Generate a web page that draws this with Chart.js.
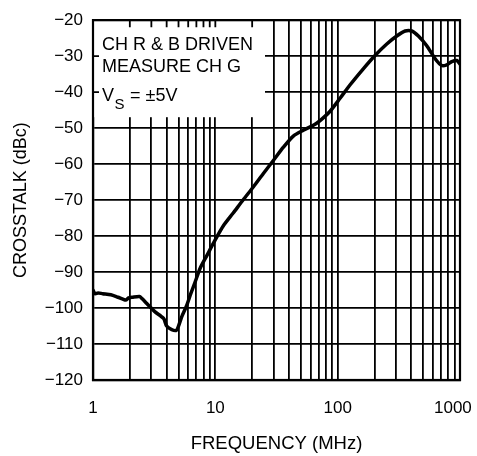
<!DOCTYPE html>
<html>
<head>
<meta charset="utf-8">
<script src="https://cdn.jsdelivr.net/npm/chart.js@4/dist/chart.umd.min.js"></script>
<style>
  html, body { margin: 0; padding: 0; background: #fff; }
  #wrap { width: 477px; height: 456px; }
</style>
</head>
<body>
<div id="wrap"><canvas id="c" width="477" height="456"></canvas></div>
<script>
// Crosstalk vs frequency, channels R & B driven, G measured
const frequencyMHz = [
  1, 1.04, 1.1, 1.2, 1.4, 1.6, 1.85, 1.95, 2.1, 2.4, 2.5, 2.8, 3.2, 3.6, 3.8,
  4.0, 4.4, 4.8, 5.0, 5.3, 5.8, 6.3, 6.8, 7.5, 8.5, 10, 11.6, 14, 16.9, 20.5,
  24.7, 29.8, 36, 43.4, 52.4, 63.3, 71.8, 86.7, 104.6, 126, 162, 202, 252,
  304, 356, 403, 457, 535, 626, 710, 780, 857, 942, 1000
];
const crosstalkDbc = [
  -95, -96, -95.8, -96, -96.3, -97, -97.8, -97.2, -97, -96.8, -97.3, -99, -101, -102.3, -103,
  -105, -106, -106.2, -105, -102.5, -99.5, -96, -93, -89, -85.5, -81, -77.2, -73.6, -69.9, -66.3,
  -62.6, -59, -55.3, -52.2, -50.6, -49.2, -47.9, -45.3, -41.7, -38, -33.5, -29.8, -26.6,
  -24.4, -23, -23, -24.4, -27.1, -30.7, -32.6, -32.4, -31.5, -31.2, -32.2
];

// Axis ticks
const xGridValues = [
  1, 2, 3, 4, 5, 6, 7, 8, 9,
  10, 20, 30, 40, 50, 60, 70, 80, 90,
  100, 200, 300, 400, 500, 600, 700, 800, 900, 1000
];
const xTickLabels = [1, 10, 100, 1000];
const yTickValues = [-120, -110, -100, -90, -80, -70, -60, -50, -40, -30, -20];

// Conditions note
const noteLines = ['CH R & B DRIVEN', 'MEASURE CH G'];
const supplyLabel = { main: 'V', sub: 'S', rest: '= \u00B15V' };

const FONT = '"Liberation Sans", Arial, Helvetica, sans-serif';

// Keep the last frequency label inside the canvas edge
function formatFreq(v) {
  if (!xTickLabels.includes(v)) return '';
  return v === xTickLabels[xTickLabels.length - 1] ? String(v) + '\u00A0\u00A0\u00A0' : String(v);
}

const notePlugin = {
  id: 'noteBox',
  beforeDatasetsDraw(chart) {
    const { ctx, chartArea: a, scales } = chart;
    const bx = a.left, by = a.top, bw = 172, bh = 97;
    ctx.save();
    // white panel behind the note
    ctx.fillStyle = '#fff';
    ctx.fillRect(bx, by, bw, bh);
    // inward tick marks along the frame inside the panel
    ctx.strokeStyle = '#000';
    ctx.lineWidth = 1.8;
    ctx.beginPath();
    scales.x.ticks.forEach(t => {
      const px = scales.x.getPixelForValue(t.value);
      if (px > bx + 2 && px < bx + bw) { ctx.moveTo(px, by); ctx.lineTo(px, by + 7); }
    });
    scales.y.ticks.forEach(t => {
      const py = scales.y.getPixelForValue(t.value);
      if (py > by + 2 && py < by + bh) { ctx.moveTo(bx, py); ctx.lineTo(bx + 6, py); }
    });
    ctx.stroke();
    // plot frame
    ctx.lineWidth = 2.2;
    ctx.strokeRect(a.left, a.top, a.right - a.left, a.bottom - a.top);
    // note text
    ctx.fillStyle = '#000';
    ctx.textAlign = 'left';
    ctx.textBaseline = 'alphabetic';
    ctx.font = '18px ' + FONT;
    const tx = bx + 9;
    ctx.fillText(noteLines[0], tx, by + 30);
    ctx.fillText(noteLines[1], tx, by + 52);
    ctx.fillText(supplyLabel.main, tx, by + 81);
    const vw = ctx.measureText(supplyLabel.main).width;
    ctx.font = '15px ' + FONT;
    ctx.fillText(supplyLabel.sub, tx + vw + 0.5, by + 88.5);
    const sw = ctx.measureText(supplyLabel.sub).width;
    ctx.font = '18px ' + FONT;
    ctx.fillText(supplyLabel.rest, tx + vw + sw + 6, by + 81);
    ctx.restore();
  }
};

new Chart(document.getElementById('c'), {
  type: 'line',
  data: {
    datasets: [{
      data: frequencyMHz.map((f, i) => ({ x: f, y: crosstalkDbc[i] })),
      borderColor: '#000',
      borderWidth: 3.5,
      pointRadius: 0,
      tension: 0.25,
      borderCapStyle: 'round',
      borderJoinStyle: 'round',
      fill: false
    }]
  },
  options: {
    responsive: false,
    animation: false,
    devicePixelRatio: 1,
    layout: { padding: { top: 14, right: 0, left: 0, bottom: 0 } },
    plugins: { legend: { display: false }, tooltip: { enabled: false } },
    scales: {
      x: {
        type: 'logarithmic',
        min: 1,
        max: 1000,
        afterBuildTicks(scale) { scale.ticks = xGridValues.map(v => ({ value: v })); },
        afterFit(scale) {
          scale.height = 76;
          scale.paddingLeft = 0;
          scale.paddingRight = 17;
        },
        grid: { color: '#000', lineWidth: 1.8, drawTicks: false },
        border: { color: '#000', width: 2.2 },
        ticks: {
          autoSkip: false,
          maxRotation: 0,
          padding: 18,
          color: '#000',
          font: { family: FONT, size: 17 },
          callback: formatFreq
        },
        title: {
          display: true,
          text: 'FREQUENCY (MHz)',
          color: '#000',
          font: { family: FONT, size: 18.5 },
          padding: { top: 0, bottom: 1 }
        }
      },
      y: {
        min: -120,
        max: -20,
        afterBuildTicks(scale) { scale.ticks = yTickValues.map(v => ({ value: v })); },
        afterFit(scale) { scale.width = 93; },
        grid: { color: '#000', lineWidth: 1.8, drawTicks: false },
        border: { color: '#000', width: 2.2 },
        ticks: {
          padding: 10,
          color: '#000',
          font: { family: FONT, size: 17 },
          callback: v => (v < 0 ? '\u2212' + Math.abs(v) : String(v))
        },
        title: {
          display: true,
          text: 'CROSSTALK (dBc)',
          color: '#000',
          font: { family: FONT, size: 18 },
          padding: { top: 10, bottom: 0 }
        }
      }
    }
  },
  plugins: [notePlugin]
});
</script>
</body>
</html>
